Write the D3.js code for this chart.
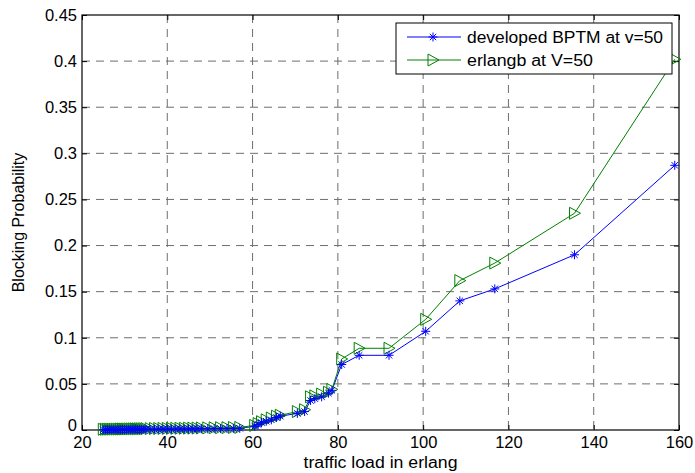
<!DOCTYPE html>
<html>
<head>
<meta charset="utf-8">
<script src="https://cdn.jsdelivr.net/npm/d3@7"></script>
<style>
  body { margin: 0; background: #fff; }
  text { font-family: Arial, "Liberation Sans", sans-serif; }
</style>
</head>
<body>
<div id="chart"></div>
<script>
// traffic load (erlang) and blocking probabilities
const load = [25, 25.5, 26, 26.5, 27, 27.5, 28, 28.5, 29, 29.5, 30, 30.5, 31, 31.5, 32, 32.5, 33, 33.5, 34, 34.5,
  35, 36, 37, 38, 39, 40, 41, 42, 43, 44, 45, 46, 47, 48, 49.5, 51, 52.5, 54, 55.5, 57,
  60.5, 61.3, 62.1, 63.2, 64.4, 65.6, 66.5, 70.5, 72.2, 73.6, 74.6, 76.2, 77.8, 78.6,
  80.9, 85, 92, 100.6, 108.6, 116.8, 135.5, 159];
const bptm = [0.0003, 0.0003, 0.0003, 0.0004, 0.0004, 0.0004, 0.0004, 0.0005, 0.0005, 0.0005, 0.0005, 0.0006, 0.0006, 0.0006, 0.0006, 0.0007, 0.0007, 0.0007, 0.0007, 0.0008,
  0.0008, 0.0008, 0.0009, 0.0009, 0.0009, 0.001, 0.001, 0.001, 0.0011, 0.0011, 0.0011, 0.0012, 0.0012, 0.0013, 0.0013, 0.0014, 0.0015, 0.0016, 0.0017, 0.0018,
  0.004, 0.006, 0.008, 0.0095, 0.011, 0.0135, 0.015, 0.018, 0.02, 0.032, 0.034, 0.036, 0.04, 0.043,
  0.071, 0.081, 0.081, 0.107, 0.14, 0.153, 0.19, 0.287];
const erlangb = [0.0008, 0.0008, 0.0009, 0.0009, 0.0009, 0.001, 0.001, 0.001, 0.0011, 0.0011, 0.0011, 0.0012, 0.0012, 0.0012, 0.0013, 0.0013, 0.0013, 0.0014, 0.0014, 0.0014,
  0.0015, 0.0015, 0.0016, 0.0016, 0.0017, 0.0017, 0.0018, 0.0018, 0.0019, 0.0019, 0.002, 0.002, 0.0021, 0.0022, 0.0023, 0.0024, 0.0025, 0.0026, 0.0027, 0.0028,
  0.005, 0.007, 0.009, 0.011, 0.013, 0.015, 0.016, 0.02, 0.022, 0.036, 0.037, 0.039, 0.041, 0.044,
  0.077, 0.0886, 0.0886, 0.12, 0.162, 0.181, 0.235, 0.402];
const seriesNames = ["developed BPTM at v=50", "erlangb at V=50"];
const xTicks = [20, 40, 60, 80, 100, 120, 140, 160];
const yTicks = [0, 0.05, 0.1, 0.15, 0.2, 0.25, 0.3, 0.35, 0.4, 0.45];

var width = 695, height = 473;
var margin = { top: 15, right: 16, bottom: 43, left: 82 };
var w = width - margin.left - margin.right, h = height - margin.top - margin.bottom;

var svg = d3.select('#chart').append('svg')
  .attr('width', width)
  .attr('height', height);

var g = svg.append('g')
  .attr('transform', 'translate(' + margin.left + ',' + margin.top + ')');

var x = d3.scaleLinear().domain([20, 160]).range([0, w]);
var y = d3.scaleLinear().domain([0, 0.45]).range([h, 0]);

// dashed grid
g.append('g').selectAll('line')
  .data(xTicks.slice(1, -1))
  .enter().append('line')
  .attr('x1', d => x(d)).attr('x2', d => x(d))
  .attr('y1', 0).attr('y2', h)
  .attr('stroke', '#6e6e6e').attr('stroke-dasharray', '8,6');
g.append('g').selectAll('line')
  .data(yTicks.slice(1, -1))
  .enter().append('line')
  .attr('y1', d => y(d)).attr('y2', d => y(d))
  .attr('x1', 0).attr('x2', w)
  .attr('stroke', '#6e6e6e').attr('stroke-dasharray', '8,6');

// axes with inward ticks on all four sides
g.append('g').attr('transform', 'translate(0,' + h + ')')
  .call(d3.axisBottom(x).tickValues(xTicks).tickSizeInner(-5).tickSizeOuter(0).tickPadding(6));
var yAxis = g.append('g')
  .call(d3.axisLeft(y).tickValues(yTicks).tickSizeInner(-5).tickSizeOuter(0).tickPadding(5).tickFormat(d3.format('')));
g.append('g')
  .call(d3.axisTop(x).tickValues(xTicks).tickSizeInner(-5).tickSizeOuter(0).tickFormat(''));
g.append('g').attr('transform', 'translate(' + w + ',0)')
  .call(d3.axisRight(y).tickValues(yTicks).tickSizeInner(-5).tickSizeOuter(0).tickFormat(''));

g.selectAll('.domain').remove();
g.selectAll('.tick line').attr('stroke', '#000');
g.selectAll('.tick text').attr('font-size', 16.5).attr('fill', '#000').attr('font-family', 'Arial, "Liberation Sans", sans-serif');
// the "0" label sits a little higher so it clears the "20" below it
yAxis.selectAll('.tick text').filter(d => d === 0).attr('dy', '0.05em');

g.append('rect')
  .attr('width', w).attr('height', h)
  .attr('fill', 'none').attr('stroke', '#000').attr('stroke-width', 1.2);

// axis titles
svg.append('text')
  .attr('x', margin.left + w / 2)
  .attr('y', 468)
  .attr('text-anchor', 'middle')
  .attr('font-size', 16)
  .attr('textLength', 154).attr('lengthAdjust', 'spacingAndGlyphs')
  .text('traffic load in erlang');
svg.append('text')
  .attr('transform', 'translate(24,' + (margin.top + h / 2) + ') rotate(-90)')
  .attr('text-anchor', 'middle')
  .attr('font-size', 16)
  .text('Blocking Probability');

// series
var star = 'M-4.5,0L4.5,0M0,-4.5L0,4.5M-3.2,-3.2L3.2,3.2M-3.2,3.2L3.2,-3.2';
var tri = 'M-5,-6L6,0L-5,6Z';
var series = [
  { name: seriesNames[0], values: bptm, color: '#0000ff', marker: star, len: 196 },
  { name: seriesNames[1], values: erlangb, color: '#008000', marker: tri, len: 126 }
];

var line = d3.line()
  .x((d, i) => x(load[i]))
  .y(d => y(d));

series.forEach(s => {
  g.append('path')
    .datum(s.values)
    .attr('d', line)
    .attr('fill', 'none')
    .attr('stroke', s.color)
    .attr('stroke-width', 1);
});
series.slice().reverse().forEach(s => {
  g.append('g').selectAll('path')
    .data(s.values)
    .enter().append('path')
    .attr('transform', (d, i) => 'translate(' + x(load[i]) + ',' + y(d) + ')')
    .attr('d', s.marker)
    .attr('fill', 'none')
    .attr('stroke', s.color)
    .attr('stroke-width', 1);
});

// legend
var legend = svg.append('g').attr('transform', 'translate(396,23)');
legend.append('rect')
  .attr('width', 276).attr('height', 51)
  .attr('fill', '#fff').attr('stroke', '#000');
series.forEach((s, i) => {
  var ly = 14 + i * 23;
  legend.append('line')
    .attr('x1', 11).attr('x2', 65).attr('y1', ly).attr('y2', ly)
    .attr('stroke', s.color);
  legend.append('path')
    .attr('transform', 'translate(37,' + ly + ')')
    .attr('d', s.marker)
    .attr('fill', 'none').attr('stroke', s.color);
  legend.append('text')
    .attr('x', 71).attr('y', ly + 6)
    .attr('font-size', 16)
    .attr('textLength', s.len).attr('lengthAdjust', 'spacingAndGlyphs')
    .text(s.name);
});
</script>
</body>
</html>
